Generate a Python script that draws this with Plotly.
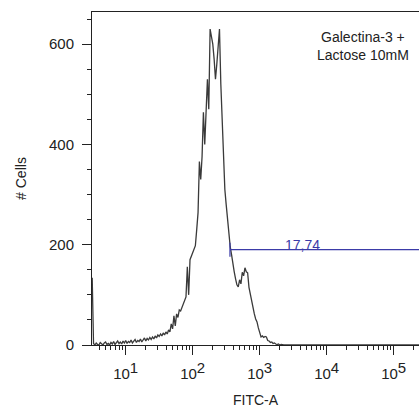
import numpy as np
import plotly.graph_objects as go

# Histogram: bin centres in log10(FITC-A) and counts
log_start = 0.50
log_step = 0.02
counts = [
    134, 3, 0, 4, 1, 0, 5, 2, 0, 4,      # 0.50 - 0.68
    6, 1, 3, 0, 5, 2, 7, 1, 4, 8,        # 0.70 - 0.88
    3, 6, 2, 8, 4, 9, 3, 7, 5, 10,       # 0.90 - 1.08
    4, 8, 11, 5, 9, 7, 12, 6, 10, 14,    # 1.10 - 1.28
    8, 13, 10, 15, 11, 16, 12, 18, 14, 20,  # 1.30 - 1.48
    17, 22, 18, 24, 20, 26, 22, 30, 26, 42,  # 1.50 - 1.68
    32, 58, 38, 62, 55, 70, 68, 76, 80, 90,  # 1.70 - 1.88
    96, 156, 100, 170, 178, 185, 190, 198, 230, 264,  # 1.90 - 2.08
    366, 330, 376, 464, 400, 456, 530, 470, 630, 615,  # 2.10 - 2.28
    600, 570, 530, 560, 600, 630, 520, 450, 380, 310,  # 2.30 - 2.48
    280, 250, 215, 196, 180, 160, 146, 132, 120, 116,  # 2.50 - 2.68
    130, 122, 145, 138, 154, 146, 144, 115, 100, 88,   # 2.70 - 2.88
    76, 62, 52, 46, 34, 24, 16, 18, 15, 17,            # 2.90 - 3.08
    16, 9, 8, 5, 6, 3, 4, 2, 1, 2,                     # 3.10 - 3.28
    0, 1, 0, 0, 0, 0, 0, 0, 0, 0, 0,                   # 3.30 - 3.50
]
tail_x = 2.4e5
tail_count = 0

# Gate
gate_start = 360
gate_end = 3.0e5
gate_level = 190
gate_label = "17,74"
gate_label_x = 4400

x_ticks = [10, 100, 1000, 10000, 100000]
x_exponents = ["1", "2", "3", "4", "5"]
y_ticks = [0, 200, 400, 600]

sample_text = "Galectina-3 +<br>Lactose 10mM"

xs = [10 ** (log_start + log_step * i) for i in range(len(counts))] + [tail_x]
ys = counts + [tail_count]
x_ticktext = ["10<sup><span style='font-size:15px'>%s</span></sup>" % e for e in x_exponents]

minor_x = [m * 10 ** k for k in range(0, 6) for m in range(2, 10)]

W, H = 419, 412
ML, MR, MT, MB = 92, 0, 12, 67
PW, PH = W - ML - MR, H - MT - MB

fig = go.Figure()
fig.add_trace(go.Scatter(x=xs, y=ys, mode="lines",
                         line=dict(color="#3a3a3a", width=1.3), hoverinfo="skip"))
fig.add_trace(go.Scatter(x=[gate_start, gate_end], y=[gate_level, gate_level], mode="lines",
                         line=dict(color="#3b3ba8", width=1.2)))
fig.add_trace(go.Scatter(x=[gate_start, gate_start], y=[gate_level - 14, gate_level + 14], mode="lines",
                         line=dict(color="#3b3ba8", width=1.2)))

font_family = "Liberation Sans, Arial, sans-serif"
fig.add_annotation(x=np.log10(gate_label_x), y=gate_level, xref="x", yref="y",
                   text=gate_label, showarrow=False, xanchor="center", yanchor="bottom", yshift=-5,
                   font=dict(family=font_family, size=14, color="#3b3ba8"))
fig.add_annotation(x=(363 - ML) / PW, y=(H - MB - 46) / PH, xref="paper", yref="paper",
                   text=sample_text, showarrow=False, align="center",
                   xanchor="center", yanchor="middle",
                   font=dict(family=font_family, size=14, color="#222222"))

fig.update_layout(
    width=W, height=H,
    margin=dict(l=ML, r=MR, t=MT, b=MB, autoexpand=False),
    paper_bgcolor="white", plot_bgcolor="white",
    showlegend=False,
    font=dict(family=font_family, size=14, color="#222222"),
)

fig.update_xaxes(
    type="log", range=[0.497, 5.378], automargin=False,
    showline=True, linecolor="#222222", linewidth=1, mirror=True,
    showgrid=False, zeroline=False,
    tickmode="array", tickvals=x_ticks, ticktext=x_ticktext,
    ticks="outside", ticklen=9, tickcolor="#222222",
    minor=dict(tickvals=minor_x, ticks="outside", ticklen=4, tickcolor="#222222"),
    tickfont=dict(size=15), ticklabelstandoff=6,
    title=dict(text="FITC-A", font=dict(size=14), standoff=14),
)
fig.update_yaxes(
    range=[0, 664], automargin=False,
    showline=True, linecolor="#222222", linewidth=1, mirror=False,
    showgrid=False, zeroline=False,
    tickmode="array", tickvals=y_ticks,
    ticks="outside", ticklen=9, tickcolor="#222222",
    minor=dict(dtick=50, tick0=0, ticks="outside", ticklen=4, tickcolor="#222222"),
    tickfont=dict(size=15), ticklabelstandoff=5,
    title=dict(text="# Cells", font=dict(size=14), standoff=19),
)

fig.write_html("out.html", config={"displayModeBar": False},
               post_script="document.body.style.margin='0';document.body.style.overflow='hidden';")
